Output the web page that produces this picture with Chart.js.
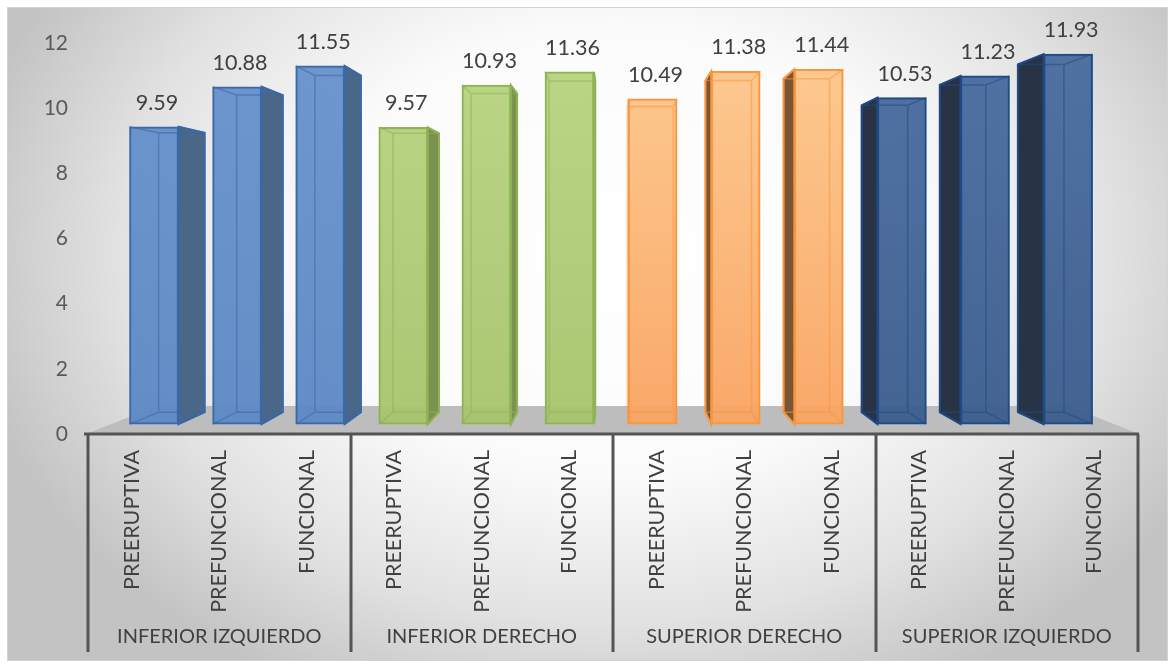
<!DOCTYPE html>
<html>
<head>
<meta charset="utf-8">
<script src="https://cdn.jsdelivr.net/npm/chart.js@4.4.0/dist/chart.umd.min.js"></script>
<style>
    html, body { margin: 0; padding: 0; background: #fff; }
    #wrap { position: relative; width: 1175px; height: 669px; }
</style>
</head>
<body>
<div id="wrap"><canvas id="toothChart"></canvas></div>
<script>
// Chart data
var groups = ['INFERIOR IZQUIERDO', 'INFERIOR DERECHO', 'SUPERIOR DERECHO', 'SUPERIOR IZQUIERDO'];
var stages = ['PREERUPTIVA', 'PREFUNCIONAL', 'FUNCIONAL'];
var inferiorIzquierdo = [9.59, 10.88, 11.55];
var inferiorDerecho = [9.57, 10.93, 11.36];
var superiorDerecho = [10.49, 11.38, 11.44];
var superiorIzquierdo = [10.53, 11.23, 11.93];
var yTicks = [0, 2, 4, 6, 8, 10, 12];

// one colour set per group
var groupStyles = [
    { top: 'rgba(102,146,204,0.95)', bottom: 'rgba(92,136,196,0.95)', border: '#3b68a6', side: '#4b6787' },
    { top: 'rgba(184,212,128,0.95)', bottom: 'rgba(166,196,108,0.95)', border: '#8fb257', side: '#7a9450' },
    { top: 'rgba(253,200,140,0.95)', bottom: 'rgba(249,163,96,0.95)', border: '#f7963f', side: '#7a5535' },
    { top: 'rgba(72,108,160,0.95)', bottom: 'rgba(58,92,140,0.95)', border: '#1f4a86', side: '#283446' }
];

var subLabels = [];
groups.forEach(function () { subLabels = subLabels.concat(stages); });
var values = [].concat(inferiorIzquierdo, inferiorDerecho, superiorDerecho, superiorIzquierdo);
var points = values.map(function (v, i) { return { x: i, y: v }; });

var FONT = 'Lato, "DejaVu Sans", sans-serif';

// perspective helper for the fake 3D boxes
var vanish = { x: 615, y: 226 };
function project(px, py, k) {
    return [vanish.x + k * (px - vanish.x), vanish.y + k * (py - vanish.y)];
}

function groupOf(i) { return Math.floor(i / stages.length); }

// background with soft radial shading and a thin frame
var backgroundPlugin = {
    id: 'background',
    beforeDraw: function (chart) {
        var ctx = chart.ctx;
        ctx.save();
        ctx.fillStyle = '#ffffff';
        ctx.fillRect(0, 0, chart.width, chart.height);
        ctx.beginPath();
        ctx.rect(7, 7, 1161, 654);
        ctx.clip();
        ctx.translate(615, 250);
        ctx.scale(1, 0.75);
        var g = ctx.createRadialGradient(0, 0, 0, 0, 0, 660);
        g.addColorStop(0, '#ffffff');
        g.addColorStop(0.45, '#fbfbfb');
        g.addColorStop(0.75, '#e2e2e2');
        g.addColorStop(1, '#c3c3c3');
        ctx.fillStyle = g;
        ctx.fillRect(-800, -700, 1600, 1400);
        ctx.restore();
        ctx.save();
        ctx.strokeStyle = '#d4d4d4';
        ctx.lineWidth = 1;
        ctx.strokeRect(7.5, 7.5, 1160, 653);
        ctx.restore();
    }
};

// floor, box sides, inner edges, axis lines and all labels
var boxPlugin = {
    id: 'boxes',
    beforeDatasetsDraw: function (chart) {
        var ctx = chart.ctx;
        var area = chart.chartArea;
        var k = 0.865;
        var fl = project(area.left - 2, area.bottom, k);
        var fr = project(area.right + 1, area.bottom, k);
        ctx.save();
        ctx.fillStyle = '#bdbdbd';
        ctx.beginPath();
        ctx.moveTo(area.left - 2, area.bottom);
        ctx.lineTo(fl[0], fl[1]);
        ctx.lineTo(fr[0], fr[1]);
        ctx.lineTo(area.right + 1, area.bottom);
        ctx.closePath();
        ctx.fill();

        var meta = chart.getDatasetMeta(0);
        meta.data.forEach(function (el, i) {
            var p = el.getProps(['x', 'y', 'base', 'width'], true);
            var st = groupStyles[groupOf(i)];
            var x0 = p.x - p.width / 2, x1 = p.x + p.width / 2;
            var b0 = project(x0, p.y, 0.94), b1 = project(x1, p.base, 0.94);
            ctx.fillStyle = st.side;
            ctx.strokeStyle = st.border;
            ctx.lineWidth = 2;
            if (b1[0] > x1 + 1) {
                ctx.beginPath();
                ctx.moveTo(x1, p.y);
                ctx.lineTo(b1[0], b0[1]);
                ctx.lineTo(b1[0], b1[1]);
                ctx.lineTo(x1, p.base);
                ctx.closePath();
                ctx.fill();
                ctx.stroke();
            }
            if (b0[0] < x0 - 1) {
                ctx.beginPath();
                ctx.moveTo(x0, p.y);
                ctx.lineTo(b0[0], b0[1]);
                ctx.lineTo(b0[0], b1[1]);
                ctx.lineTo(x0, p.base);
                ctx.closePath();
                ctx.fill();
                ctx.stroke();
            }
        });
        ctx.restore();
    },
    afterDatasetsDraw: function (chart) {
        var ctx = chart.ctx;
        var area = chart.chartArea;
        var meta = chart.getDatasetMeta(0);
        ctx.save();
        meta.data.forEach(function (el, i) {
            var p = el.getProps(['x', 'y', 'base', 'width'], true);
            var st = groupStyles[groupOf(i)];
            var x0 = p.x - p.width / 2, x1 = p.x + p.width / 2;
            var b0 = project(x0, p.y, 0.94), b1 = project(x1, p.base, 0.94);
            // back edges seen through the front
            ctx.globalAlpha = 0.55;
            ctx.strokeStyle = st.border;
            ctx.lineWidth = 1.5;
            ctx.beginPath();
            ctx.rect(b0[0], b0[1], b1[0] - b0[0], b1[1] - b0[1]);
            ctx.moveTo(x0, p.y); ctx.lineTo(b0[0], b0[1]);
            ctx.moveTo(x1, p.y); ctx.lineTo(b1[0], b0[1]);
            ctx.moveTo(x0, p.base); ctx.lineTo(b0[0], b1[1]);
            ctx.moveTo(x1, p.base); ctx.lineTo(b1[0], b1[1]);
            ctx.stroke();
            ctx.globalAlpha = 1;
            // value label
            ctx.fillStyle = '#404040';
            ctx.font = '21.5px ' + FONT;
            ctx.textAlign = 'center';
            ctx.textBaseline = 'middle';
            ctx.fillText(values[i].toFixed(2), p.x + 3, p.y - 24);
        });

        // category axis line and group dividers
        var xs = chart.scales.x;
        var xg = chart.scales.xg;
        ctx.strokeStyle = '#545454';
        ctx.lineWidth = 3;
        ctx.beginPath();
        ctx.moveTo(area.left - 4, area.bottom);
        ctx.lineTo(area.right + 1, area.bottom);
        var gw = (area.right - area.left) / groups.length;
        for (var g = 0; g <= groups.length; g++) {
            var gx = Math.round(area.left + g * gw);
            ctx.moveTo(gx, area.bottom);
            ctx.lineTo(gx, 652);
        }
        ctx.stroke();

        // stage labels, rotated, reading upwards
        ctx.fillStyle = '#404040';
        ctx.font = '21.5px ' + FONT;
        ctx.textAlign = 'right';
        ctx.textBaseline = 'middle';
        subLabels.forEach(function (lab, i) {
            ctx.save();
            ctx.translate(xs.getPixelForValue(i), area.bottom + 16);
            ctx.rotate(-Math.PI / 2);
            ctx.fillText(lab, 0, 0);
            ctx.restore();
        });

        // group labels
        ctx.font = '20px ' + FONT;
        ctx.textAlign = 'center';
        ctx.textBaseline = 'alphabetic';
        groups.forEach(function (lab, j) {
            ctx.fillText(lab, xg.getPixelForValue(j), 643);
        });
        ctx.restore();
    }
};

var ctx = document.getElementById('toothChart').getContext('2d');

var toothChart = new Chart(ctx, {
    type: 'bar',
    data: {
        datasets: [{
            data: points,
            xAxisID: 'xb',
            yAxisID: 'yb',
            barThickness: 49,
            borderWidth: 2,
            borderSkipped: false,
            borderColor: values.map(function (v, i) { return groupStyles[groupOf(i)].border; }),
            backgroundColor: function (context) {
                var chart = context.chart;
                var area = chart.chartArea;
                var st = groupStyles[groupOf(context.dataIndex)];
                if (!area) return st.bottom;
                var g = chart.ctx.createLinearGradient(0, area.top, 0, area.bottom);
                g.addColorStop(0, st.top);
                g.addColorStop(1, st.bottom);
                return g;
            }
        }]
    },
    options: {
        responsive: true,
        maintainAspectRatio: false,
        animation: false,
        layout: { padding: { left: 0, right: 37, top: 43, bottom: 235 } },
        plugins: {
            legend: { display: false },
            tooltip: { enabled: false }
        },
        scales: {
            xb: {
                type: 'linear',
                display: false,
                offset: false,
                min: -0.794,
                max: 11.841
            },
            yb: {
                type: 'linear',
                display: false,
                min: -0.32,
                max: 12.29
            },
            y: {
                type: 'linear',
                position: 'left',
                min: yTicks[0],
                max: yTicks[yTicks.length - 1],
                afterFit: function (scale) { scale.width = 88; },
                afterBuildTicks: function (scale) {
                    scale.ticks = yTicks.map(function (v) { return { value: v }; });
                },
                grid: { display: false },
                border: { display: false },
                ticks: {
                    padding: 12,
                    color: '#595959',
                    font: { family: FONT, size: 21 }
                }
            },
            x: {
                type: 'category',
                position: 'bottom',
                labels: subLabels,
                offset: true,
                display: false
            },
            xg: {
                type: 'category',
                position: 'bottom',
                labels: groups,
                offset: true,
                display: false
            }
        }
    },
    plugins: [backgroundPlugin, boxPlugin]
});
</script>
</body>
</html>
